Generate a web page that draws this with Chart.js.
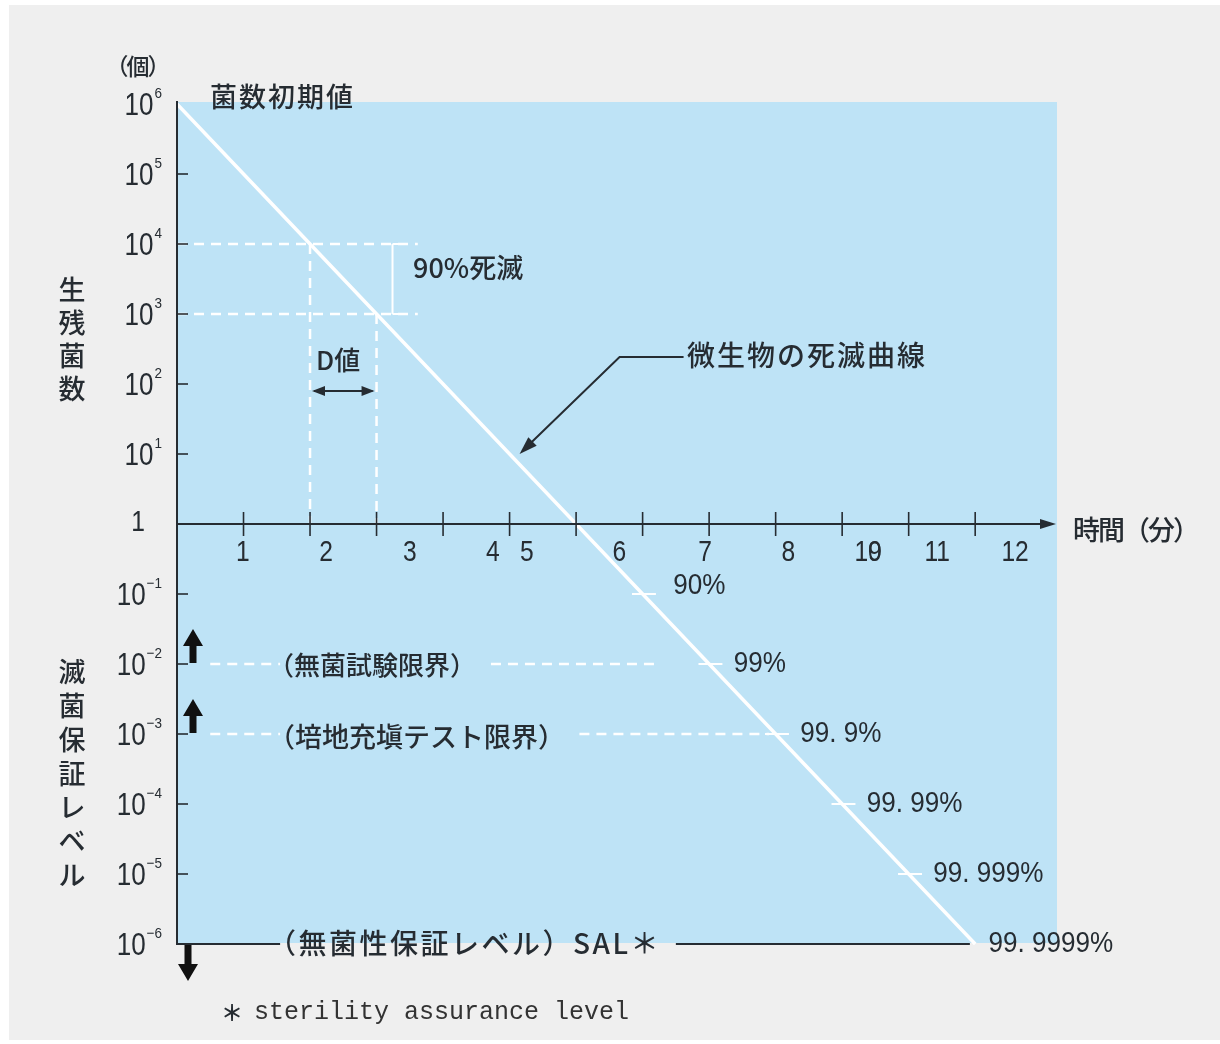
<!DOCTYPE html>
<html lang="ja">
<head>
<meta charset="utf-8">
<title>微生物の死滅曲線</title>
<script src="https://cdn.jsdelivr.net/npm/chart.js@4"></script>
<style>
  html, body { margin: 0; padding: 0; background: #ffffff; }
  #wrap { position: relative; width: 1220px; height: 1044px; overflow: hidden; }
  #panel { position: absolute; left: 9px; top: 5px; right: 0; bottom: 4px; background: #efefef; }
  #c { position: absolute; left: 0; top: 0; }
</style>
</head>
<body>
<div id="wrap">
  <div id="panel"></div>
  <canvas id="c" width="1220" height="1044"></canvas>
</div>
<script>
// ---- data ---------------------------------------------------------------
// heating time (min) and surviving count (log scale, 1 decade per D value)
const minutes   = [0, 1, 2, 3, 4, 5, 6, 7, 8, 9, 10, 11, 12];
const survivors = [1e6, 1e5, 1e4, 1e3, 1e2, 1e1, 1, 1e-1, 1e-2, 1e-3, 1e-4, 1e-5, 1e-6];

// y axis decades (10^n)
const yTickExponents = [6, 5, 4, 3, 2, 1, 0, -1, -2, -3, -4, -5, -6];

// x axis tick marks and their printed labels
const xTickMarks  = [1, 2, 3, 4, 5, 6, 7, 8, 9, 10, 11, 12];
const xTickLabels = ['1', '2', '3', '4', '5', '6', '7', '8', '10', '9', '11', '12'];
const xTickLabelAt = [0.99, 2.24, 3.5, 4.75, 5.26, 6.65, 7.94, 9.19, 10.39, 10.49, 11.43, 12.6];

// kill ratio reached at each survivor level below 1
const killLevels   = [1e-1, 1e-2, 1e-3, 1e-4, 1e-5, 1e-6];
const killLabels   = ['90%', '99%', '99. 9%', '99. 99%', '99. 999%', '99. 9999%'];

// D value: one decade reduction between these two times
const dValueFrom = 2, dValueTo = 3;

// assurance limits
const sterilityTestLimit = 1e-2;
const mediaFillLimit     = 1e-3;
const salLevel           = 1e-6;

// ---- styles -------------------------------------------------------------
const BLUE  = '#bee3f6';
const INK   = '#262c32';
const WHITE = '#ffffff';
const JP    = '"Noto Sans CJK JP", "Noto Sans", sans-serif';
const NUM   = '"Liberation Sans", Arial, sans-serif';
const MONO  = '"Liberation Mono", "DejaVu Sans Mono", monospace';
const X_MAX = 13.23;
const W_JP  = '500';

function txt(ctx, s, x, y, o) {
  ctx.save();
  ctx.font = `${o.weight || 'normal'} ${o.size}px ${o.family || JP}`;
  ctx.fillStyle = o.color || INK;
  ctx.textBaseline = 'middle';
  ctx.letterSpacing = (o.ls || 0) + 'px';
  const sx = o.sx || 1;
  const w = ctx.measureText(s).width * sx;
  let left = x;
  if (o.align === 'center') left = x - w / 2;
  else if (o.align === 'right') left = x - w;
  ctx.translate(left, y);
  ctx.scale(sx, 1);
  ctx.textAlign = 'left';
  ctx.fillText(s, 0, 0);
  ctx.restore();
  return w;
}

function vtxt(ctx, s, x, y0, step, size) {
  [...s].forEach((ch, i) => txt(ctx, ch, x, y0 + i * step, { size, align: 'center', weight: W_JP }));
}

function blockArrow(ctx, x, yBase, yTip) {
  const dir = Math.sign(yTip - yBase);
  const head = 17 * dir;
  ctx.save();
  ctx.fillStyle = '#111';
  ctx.beginPath();
  ctx.moveTo(x - 3.5, yBase);
  ctx.lineTo(x - 3.5, yTip - head);
  ctx.lineTo(x - 10, yTip - head);
  ctx.lineTo(x, yTip);
  ctx.lineTo(x + 10, yTip - head);
  ctx.lineTo(x + 3.5, yTip - head);
  ctx.lineTo(x + 3.5, yBase);
  ctx.closePath();
  ctx.fill();
  ctx.restore();
}

function arrowHead(ctx, fx, fy, tx, ty, len, half) {
  const a = Math.atan2(ty - fy, tx - fx);
  ctx.beginPath();
  ctx.moveTo(tx, ty);
  ctx.lineTo(tx - len * Math.cos(a) + half * Math.sin(a), ty - len * Math.sin(a) - half * Math.cos(a));
  ctx.lineTo(tx - len * Math.cos(a) - half * Math.sin(a), ty - len * Math.sin(a) + half * Math.cos(a));
  ctx.closePath();
  ctx.fill();
}

// ---- datasets -----------------------------------------------------------
function seg(points, color, width, dash) {
  return {
    data: points.map(([x, y]) => ({ x, y })),
    showLine: true, borderColor: color, borderWidth: width,
    borderDash: dash || [], pointRadius: 0, clip: false, fill: false
  };
}
const DASH = [10, 7];
const datasets = [
  // death curve
  {
    data: minutes.map((m, i) => ({ x: m, y: survivors[i] })),
    showLine: true, borderColor: WHITE, borderWidth: 3.5,
    pointRadius: 0, clip: false, fill: false
  },
  // D value guides
  seg([[0, survivors[dValueFrom]], [3.62, survivors[dValueFrom]]], WHITE, 2.5, DASH),
  seg([[0, survivors[dValueTo]], [3.62, survivors[dValueTo]]], WHITE, 2.5, DASH),
  seg([[dValueFrom, survivors[dValueFrom]], [dValueFrom, 1]], WHITE, 2.5, DASH),
  seg([[dValueTo, survivors[dValueTo]], [dValueTo, 1]], WHITE, 2.5, DASH),
  seg([[3.24, survivors[dValueFrom]], [3.24, survivors[dValueTo]]], WHITE, 2),
  // sterility test limit
  seg([[0.5, sterilityTestLimit], [1.55, sterilityTestLimit]], WHITE, 2.5, DASH),
  seg([[4.72, sterilityTestLimit], [7.2, sterilityTestLimit]], WHITE, 2.5, DASH),
  // media fill limit
  seg([[0.5, mediaFillLimit], [1.55, mediaFillLimit]], WHITE, 2.5, DASH),
  seg([[6.05, mediaFillLimit], [8.9, mediaFillLimit]], WHITE, 2.5, DASH),
  // sterility assurance level
  seg([[0, salLevel], [1.55, salLevel]], INK, 2),
  seg([[7.5, salLevel], [11.92, salLevel]], INK, 2)
];
// small white marks where the curve passes each kill level
killLevels.slice(0, 5).forEach(lv => {
  const m = minutes[survivors.indexOf(lv)];
  datasets.push(seg([[m - 0.16, lv], [m + 0.2, lv]], WHITE, 2));
});

// ---- decorations --------------------------------------------------------
const decor = {
  id: 'decor',
  beforeDatasetsDraw(chart) {
    const { ctx, chartArea: a } = chart;
    ctx.save();
    ctx.fillStyle = BLUE;
    ctx.fillRect(a.left, a.top - 2, a.right - a.left, a.bottom - a.top + 1);
    ctx.restore();
  },
  afterDatasetsDraw(chart) {
    const ctx = chart.ctx;
    const xs = chart.scales.x, ys = chart.scales.y;
    const X = v => xs.getPixelForValue(v);
    const Y = v => ys.getPixelForValue(v);
    const x0 = X(0), y1 = Y(1);

    ctx.save();
    ctx.strokeStyle = INK;
    ctx.fillStyle = INK;

    // y axis
    ctx.lineWidth = 2;
    ctx.beginPath();
    ctx.moveTo(x0, Y(1e6) - 3);
    ctx.lineTo(x0, Y(1e-6) + 1);
    ctx.stroke();
    // y ticks (inside)
    ctx.lineWidth = 1.6;
    yTickExponents.forEach(e => {
      if (e === 6 || e === 0 || e === -6) return;
      const y = Y(Math.pow(10, e));
      ctx.beginPath(); ctx.moveTo(x0, y); ctx.lineTo(x0 + 11, y); ctx.stroke();
    });
    // x axis with arrow
    const tip = X(X_MAX) - 1;
    ctx.lineWidth = 2;
    ctx.beginPath(); ctx.moveTo(x0, y1); ctx.lineTo(tip - 12, y1); ctx.stroke();
    ctx.beginPath();
    ctx.moveTo(tip, y1); ctx.lineTo(tip - 16, y1 - 5); ctx.lineTo(tip - 16, y1 + 5);
    ctx.closePath(); ctx.fill();
    ctx.lineWidth = 1.6;
    xTickMarks.forEach(m => {
      const x = X(m);
      ctx.beginPath(); ctx.moveTo(x, y1 - 12); ctx.lineTo(x, y1 + 12); ctx.stroke();
    });

    // x tick labels
    xTickLabels.forEach((s, i) => txt(ctx, s, X(xTickLabelAt[i]), y1 + 29,
      { size: 30, family: NUM, align: 'center', sx: 0.82 }));

    // y tick labels
    yTickExponents.forEach(e => {
      const y = Y(Math.pow(10, e));
      if (e === 0) { txt(ctx, '1', 138, y - 1, { size: 30, family: NUM, align: 'center', sx: 0.82 }); return; }
      const sup = e < 0 ? '\u2212' + (-e) : String(e);
      ctx.save();
      ctx.font = `15px ${NUM}`;
      const ws = ctx.measureText(sup).width * 0.9;
      ctx.restore();
      const right = 162;
      txt(ctx, sup, right - ws, y - 10, { size: 15, family: NUM, sx: 0.9 });
      txt(ctx, '10', right - ws - 1, y + 2, { size: 31, family: NUM, align: 'right', sx: 0.84 });
    });

    // axis titles
    txt(ctx, '（個）', 137, 66, { size: 23, align: 'center', ls: -2, weight: W_JP });
    txt(ctx, '時間（分）', 1073, 530, { size: 27, ls: -2, weight: W_JP });
    vtxt(ctx, '生残菌数', 72, 290, 33, 27);
    vtxt(ctx, '滅菌保証レベル', 72, 672, 33.8, 27);

    // annotations
    const B = W_JP;
    txt(ctx, '菌数初期値', 210, 97, { size: 27, ls: 2, weight: B });
    txt(ctx, '90%死滅', 413, 268, { size: 27, weight: B });
    txt(ctx, 'D値', 316, 360, { size: 26, weight: B });
    txt(ctx, '微生物の死滅曲線', 687, 355, { size: 28, ls: 2, weight: B });
    txt(ctx, '（無菌試験限界）', 268, Y(sterilityTestLimit) + 1, { size: 26, weight: B });
    txt(ctx, '（培地充塡テスト限界）', 268, Y(mediaFillLimit) + 3, { size: 27, weight: B });
    txt(ctx, '（無菌性保証レベル）SAL＊', 268, Y(salLevel) - 1, { size: 28, ls: 2.5, weight: B });

    // D value double arrow
    const dy = Y(1e2) + 7;
    ctx.lineWidth = 1.8;
    ctx.beginPath(); ctx.moveTo(X(dValueFrom) + 4, dy); ctx.lineTo(X(dValueTo) - 4, dy); ctx.stroke();
    arrowHead(ctx, X(dValueTo), dy, X(dValueFrom) + 2, dy, 13, 5);
    arrowHead(ctx, X(dValueFrom), dy, X(dValueTo) - 2, dy, 13, 5);

    // bracket stubs for 90% kill
    ctx.strokeStyle = WHITE; ctx.lineWidth = 2;
    [Y(survivors[dValueFrom]), Y(survivors[dValueTo])].forEach(y => {
      ctx.beginPath(); ctx.moveTo(X(3.24), y); ctx.lineTo(X(3.24) + 8, y); ctx.stroke();
    });

    // leader to the curve
    ctx.strokeStyle = INK; ctx.fillStyle = INK; ctx.lineWidth = 2;
    const tx = X(5) + 10, ty = Y(1e1);
    const kx = tx + 100, ky = ty - 97;
    ctx.beginPath(); ctx.moveTo(kx + 64, ky); ctx.lineTo(kx, ky); ctx.lineTo(tx + 6, ty - 6); ctx.stroke();
    arrowHead(ctx, kx, ky, tx, ty, 18, 6);

    // kill ratio labels
    killLabels.forEach((s, i) => {
      const lv = killLevels[i];
      const m = minutes[survivors.indexOf(lv)];
      const off = i === 0 ? 0.46 : (i === 5 ? 0.2 : 0.37);
      const yo = i === 0 ? -8 : 0;
      txt(ctx, s, X(m + off), Y(lv) + yo, { size: 29, family: NUM, sx: 0.9 });
    });

    // limit arrows
    blockArrow(ctx, x0 + 16, Y(sterilityTestLimit) - 1, Y(sterilityTestLimit) - 35);
    blockArrow(ctx, x0 + 16, Y(mediaFillLimit) - 1, Y(mediaFillLimit) - 35);
    blockArrow(ctx, x0 + 11, Y(salLevel) + 1, Y(salLevel) + 37);

    // footnote
    txt(ctx, '＊', 221, 1013, { size: 22, weight: 'bold' });
    txt(ctx, 'sterility assurance level', 254, 1012, { size: 25, family: MONO, color: '#333' });

    ctx.restore();
  }
};

new Chart(document.getElementById('c'), {
  type: 'scatter',
  data: { datasets },
  options: {
    responsive: false,
    animation: false,
    layout: { padding: { left: 177, top: 104, right: 163, bottom: 100 } },
    plugins: { legend: { display: false }, tooltip: { enabled: false } },
    scales: {
      x: { type: 'linear', min: 0, max: X_MAX, display: false },
      y: { type: 'logarithmic', min: 1e-6, max: 1e6, display: false }
    }
  },
  plugins: [decor]
});
</script>
</body>
</html>
